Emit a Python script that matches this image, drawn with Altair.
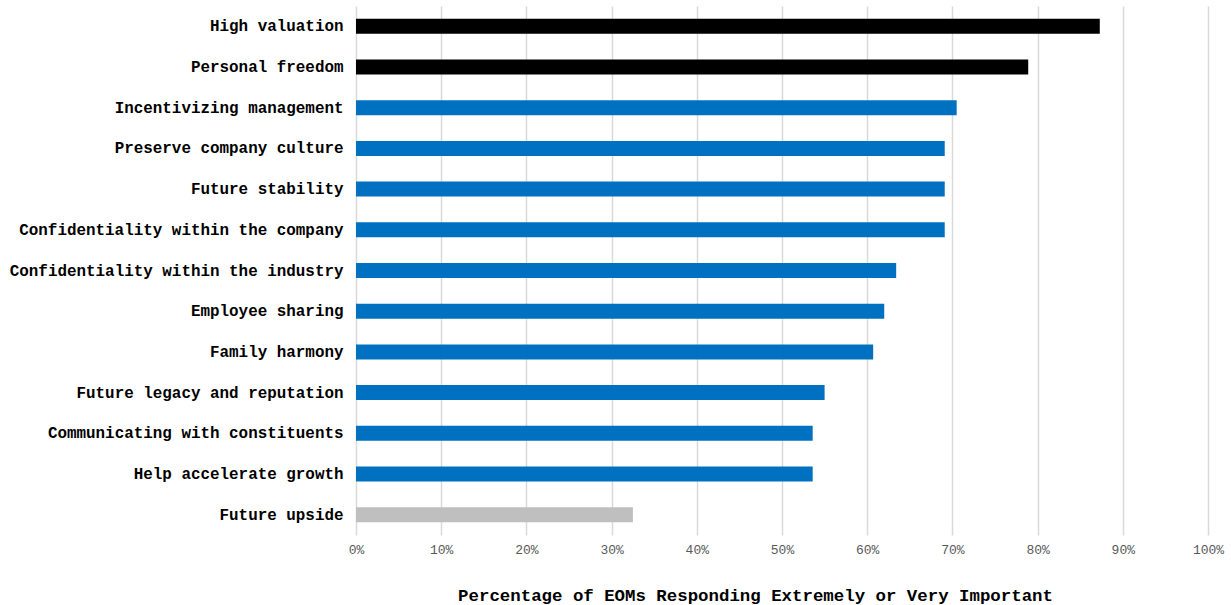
import altair as alt
import pandas as pd

categories = [
    "High valuation",
    "Personal freedom",
    "Incentivizing management",
    "Preserve company culture",
    "Future stability",
    "Confidentiality within the company",
    "Confidentiality within the industry",
    "Employee sharing",
    "Family harmony",
    "Future legacy and reputation",
    "Communicating with constituents",
    "Help accelerate growth",
    "Future upside",
]
values = [87.3, 78.9, 70.5, 69.1, 69.1, 69.1, 63.4, 62.0, 60.7, 55.0, 53.6, 53.6, 32.5]
groups = ["top", "top", "mid", "mid", "mid", "mid", "mid", "mid", "mid", "mid", "mid", "mid", "low"]
group_colors = {"top": "#000000", "mid": "#0070C0", "low": "#BFBFBF"}

df = pd.DataFrame({"category": categories, "value": [v / 100 for v in values], "group": groups})

chart = alt.Chart(df).mark_bar(size=15).encode(
    x=alt.X(
        "value:Q",
        scale=alt.Scale(domain=[0, 1], nice=False),
        axis=alt.Axis(
            format=".0%",
            values=[i / 10 for i in range(11)],
            title="Percentage of EOMs Responding Extremely or Very Important",
            titleFont="Liberation Mono",
            titleFontWeight="bold",
            titleFontSize=17.4,
            titleColor="#000000",
            titleX=399,
            titleY=60,
            titleAlign="center",
            titleBaseline="middle",
            labelFont="Liberation Mono",
            labelFontSize=13,
            labelColor="#595959",
            labelPadding=8,
            labelFlush=False,
            ticks=False,
            domain=False,
            grid=True,
            gridColor="#D9D9D9",
            gridWidth=1.5,
        ),
    ),
    y=alt.Y(
        "category:N",
        sort=categories,
        scale=alt.Scale(paddingInner=0.63, paddingOuter=0.315),
        axis=alt.Axis(
            title=None,
            labelFont="Liberation Mono",
            labelFontWeight="bold",
            labelFontSize=15.9,
            labelColor="#000000",
            labelPadding=13,
            labelLimit=400,
            ticks=False,
            domain=False,
        ),
    ),
    color=alt.Color(
        "group:N",
        scale=alt.Scale(domain=list(group_colors.keys()), range=list(group_colors.values())),
        legend=None,
    ),
).properties(
    width=852,
    height=529,
    autosize=alt.AutoSizeParams(type="none"),
    padding={"left": 356, "top": 6, "right": 23, "bottom": 70},
).configure(background="#FFFFFF").configure_view(stroke="transparent", strokeWidth=0)

chart.save("out.html", embed_options={"renderer": "svg", "actions": False})
